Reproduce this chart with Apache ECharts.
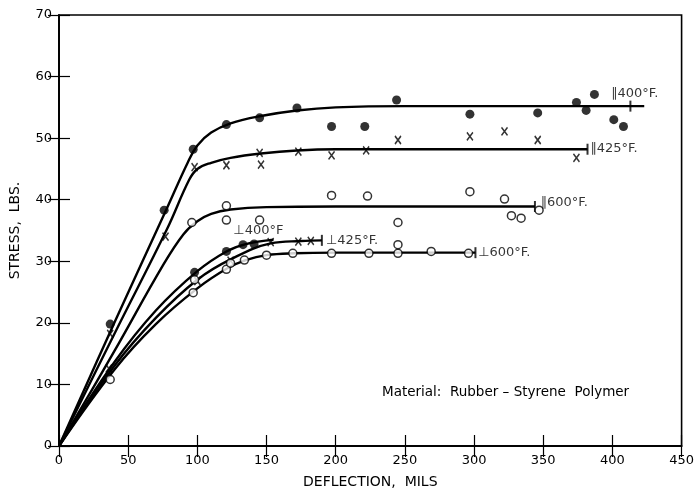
<!DOCTYPE html>
<html>
<head>
<meta charset="utf-8">
<script src="https://cdn.jsdelivr.net/npm/echarts@6/dist/echarts.min.js"></script>
<style>
    html, body { margin: 0; padding: 0; background: #fff; }
    #main { width: 697px; height: 494px; }
</style>
</head>
<body>
<div id="main"></div>
<script>
// measured points: [deflection, stress]
var par400Pts = [[37, 19.8], [76, 38.3], [97, 48.2], [121, 52.2], [145, 53.3], [172, 54.9], [197, 51.9], [221, 51.9],
    [244, 56.2], [297, 53.9], [346, 54.1], [374, 55.8], [381, 54.5], [387, 57.1], [401, 53.0], [408, 51.9]];
var par425Pts = [[37, 18.2], [77, 34.0], [98, 45.3], [121, 45.6], [145, 47.6], [146, 45.7], [173, 47.8], [197, 47.2],
    [222, 48.0], [245, 49.7], [297, 50.3], [322, 51.1], [346, 49.7], [374, 46.8]];
var par600Pts = [[96, 36.3], [121, 39.0], [121, 36.7], [145, 36.7], [197, 40.7], [223, 40.6], [245, 36.3], [297, 41.3],
    [322, 40.1], [327, 37.4], [334, 37.0], [347, 38.3]];
var perp400Pts = [[98, 28.2], [121, 31.6], [133, 32.7], [141, 32.8]];
var perp425Pts = [[36, 12.6], [100, 26.8], [124, 30.1], [153, 33.1], [173, 33.2], [182, 33.3]];
var perp600Pts = [[37, 10.8], [97, 24.9], [98, 27.0], [121, 28.7], [124, 29.7], [134, 30.2], [150, 31.0], [169, 31.3],
    [197, 31.3], [224, 31.3], [245, 31.3], [245, 32.7], [269, 31.6], [296, 31.3]];

// faired curves
var par400Fit = [[0, 0], [40, 20.0], [78, 38.6], [93, 46.0], [100, 48.8], [110, 50.9], [124, 52.4], [146, 53.6],
    [172, 54.5], [200, 55.0], [250, 55.2], [423, 55.2]];
var par425Fit = [[0, 0], [40, 18.2], [78, 35.2], [94, 43.2], [100, 45.0], [110, 46.0], [124, 46.8], [146, 47.5],
    [172, 48.0], [200, 48.2], [382, 48.2]];
var par600Fit = [[0, 0], [40, 15.4], [75, 29.3], [90, 34.4], [100, 36.5], [110, 37.7], [124, 38.4],
    [150, 38.8], [200, 38.9], [344, 38.9]];
var perp400Fit = [[0, 0], [40, 13.6], [70, 22.0], [100, 28.4], [121, 31.6], [135, 32.8], [155, 33.5]];
var perp425Fit = [[0, 0], [40, 13.0], [70, 20.8], [100, 27.0], [124, 30.3], [153, 32.9], [175, 33.3], [190, 33.4]];
var perp600Fit = [[0, 0], [40, 12.4], [70, 19.8], [100, 25.6], [122, 28.9], [135, 30.2], [150, 31.0],
    [170, 31.3], [200, 31.4], [301, 31.4]];

// end-of-curve bars
var endBars = [[413, 55.2], [382, 48.2], [344, 38.9], [190, 33.4], [301, 31.4]];

// curve labels
var curveLabels = ['\u2225400\u00b0F.', '\u2225425\u00b0F.', '\u2225600\u00b0F.', '\u22a5400\u00b0F', '\u22a5425\u00b0F.', '\u22a5600\u00b0F.'];
var curveLabelPos = [[399, 57.3], [384, 48.3], [348, 39.6], [126, 34.9], [193, 33.4], [303, 31.4]];

var xTickMax = 450, xTickStep = 50;
var yTickMax = 70, yTickStep = 10;

var font = "'DejaVu Sans', sans-serif";
var crossPath = 'path://M0,0L10,12M10,0L0,12';

function fitSeries(data) {
    return {
        type: 'line', data: data, smooth: 0.4,
        showSymbol: false, silent: true, z: 2,
        lineStyle: {color: '#000', width: 2.4}
    };
}

function pointSeries(data, kind) {
    var s = {type: 'scatter', data: data, z: 5, silent: true, symbolSize: 9};
    if (kind === 'filled') {
        s.symbol = 'circle';
        s.itemStyle = {color: '#000'};
    } else if (kind === 'open') {
        s.symbol = 'circle';
        s.symbolSize = 8;
        s.itemStyle = {color: '#fff', borderColor: '#000', borderWidth: 1.5};
    } else {
        s.symbol = crossPath;
        s.symbolSize = [6, 8];
        s.itemStyle = {color: 'none', borderColor: '#000', borderWidth: 1.6};
    }
    return s;
}

var labelData = [];
for (var i = 0; i < curveLabels.length; i++) {
    labelData.push({value: curveLabelPos[i], name: curveLabels[i]});
}

var myChart = echarts.init(document.getElementById('main'));
myChart.setOption({
    backgroundColor: '#fff',
    animation: false,
    grid: {left: 59, right: 13, top: 15, bottom: 45, show: true, borderColor: '#000', borderWidth: 1.6},
    xAxis: [{
        type: 'value', min: 0, max: xTickMax, interval: xTickStep,
        name: 'DEFLECTION,  MILS', nameLocation: 'middle', nameGap: 29,
        nameTextStyle: {fontFamily: font, fontSize: 14, color: '#000'},
        axisLine: {lineStyle: {color: '#000', width: 1.6}},
        axisTick: {inside: true, length: 11, lineStyle: {color: '#000', width: 1.2}},
        axisLabel: {fontFamily: font, fontSize: 13, color: '#000', margin: 8},
        splitLine: {show: false}
    }, {
        type: 'value', min: 0, max: xTickMax, interval: xTickStep, position: 'top',
        axisLine: {lineStyle: {color: '#000', width: 1.6}},
        axisTick: {inside: true, length: 11, lineStyle: {color: '#000', width: 1.2}},
        axisLabel: {show: false}, splitLine: {show: false}
    }],
    yAxis: [{
        type: 'value', min: 0, max: yTickMax, interval: yTickStep,
        name: 'STRESS,  LBS.', nameLocation: 'middle', nameGap: 37,
        nameTextStyle: {fontFamily: font, fontSize: 14, color: '#000'},
        axisLine: {show: true, lineStyle: {color: '#000', width: 1.6}},
        axisTick: {show: true, inside: true, length: 11, lineStyle: {color: '#000', width: 1.2}},
        axisLabel: {fontFamily: font, fontSize: 13, color: '#000', margin: 7},
        splitLine: {show: false}
    }, {
        type: 'value', min: 0, max: yTickMax, interval: yTickStep, position: 'right',
        axisLine: {show: true, lineStyle: {color: '#000', width: 1.6}},
        axisTick: {show: true, inside: true, length: 11, lineStyle: {color: '#000', width: 1.2}},
        axisLabel: {show: false}, splitLine: {show: false}
    }],
    graphic: [{
        type: 'text', left: 382, top: 385,
        style: {text: 'Material:  Rubber \u2013 Styrene  Polymer', fontFamily: font, fontSize: 13.5, fill: '#000'}
    }],
    series: [
        fitSeries(par400Fit), fitSeries(par425Fit), fitSeries(par600Fit),
        fitSeries(perp400Fit), fitSeries(perp425Fit), fitSeries(perp600Fit),
        pointSeries(par400Pts, 'filled'), pointSeries(par425Pts, 'cross'), pointSeries(par600Pts, 'open'),
        pointSeries(perp400Pts, 'filled'), pointSeries(perp425Pts, 'cross'), pointSeries(perp600Pts, 'open'),
        {
            // end bars
            type: 'scatter', data: endBars, symbol: 'rect', symbolSize: [2, 11], z: 4, silent: true,
            itemStyle: {color: '#000'}
        },
        {
            // labels next to each curve
            type: 'scatter', data: labelData, symbolSize: 0, z: 6, silent: true,
            label: {
                show: true, position: 'right', distance: 0, formatter: '{b}',
                fontFamily: font, fontSize: 13, color: '#000'
            }
        }
    ]
});
</script>
</body>
</html>
